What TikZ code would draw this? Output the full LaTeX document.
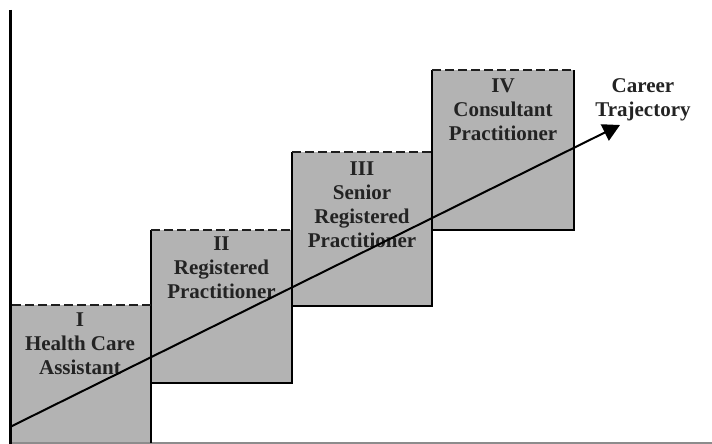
\documentclass[tikz,border=0pt]{standalone}
\usepackage{fontspec}
\setmainfont{Liberation Serif}
\usetikzlibrary{arrows.meta}
\definecolor{stepgray}{RGB}{179,179,179}
\definecolor{dashink}{RGB}{30,30,30}
\definecolor{labelink}{RGB}{35,35,35}
\definecolor{baseaxis}{RGB}{140,140,140}
\tikzset{
  stepfill/.style={fill=stepgray},
  stepedge/.style={draw=black, line width=2.5pt, line join=miter},
  steptop/.style={draw=dashink, line width=2.8pt, dash pattern=on 9pt off 4pt},
  steplabel/.style={anchor=north, inner sep=0pt, align=center, text=labelink,
    font=\fontsize{21}{24}\selectfont\bfseries},
  trajectory/.style={draw=black, line width=2pt,
    -{Triangle[length=17pt,width=18pt]}},
}
\begin{document}
\begin{tikzpicture}[x=1pt,y=-1pt]
\useasboundingbox (0,0) rectangle (712,444);

% grey fills of the four steps
\fill[stepfill] (10,305) rectangle (151,443);
\fill[stepfill] (151,230) rectangle (292,383);
\fill[stepfill] (292,152) rectangle (432,306);
\fill[stepfill] (432,70) rectangle (574,230);

% axes
\draw[baseaxis, line width=1.6pt] (10,443) -- (712,443);
\draw[black, line width=3pt] (10.5,10) -- (10.5,444);

% solid sides and bottoms of the steps
\draw[stepedge] (151,305) -- (151,443);
\draw[stepedge] (151,230) -- (151,383) -- (292,383) -- (292,230);
\draw[stepedge] (292,152) -- (292,306) -- (432,306) -- (432,152);
\draw[stepedge] (432,70) -- (432,230) -- (574,230) -- (574,70);

% dashed tops of the steps
\draw[steptop] (12,305) -- (151,305);
\draw[steptop] (151,230) -- (292,230);
\draw[steptop] (292,152) -- (432,152);
\draw[steptop] (432,70) -- (574,70);

% step labels
\node[steplabel] (hca) at (80,313) {I\\Health Care\\Assistant};
\node[steplabel] (rp) at (221.5,237) {II\\Registered\\Practitioner};
\node[steplabel] (srp) at (362,162) {III\\Senior\\Registered\\Practitioner};
\node[steplabel] (cp) at (503,79) {IV\\Consultant\\Practitioner};
\node[steplabel] (ct) at (643,78) {Career\\Trajectory};

% career trajectory arrow
\coordinate (start) at (10,427);
\coordinate (tip) at (620,125);
\draw[trajectory] (start) -- (tip);
\end{tikzpicture}
\end{document}
